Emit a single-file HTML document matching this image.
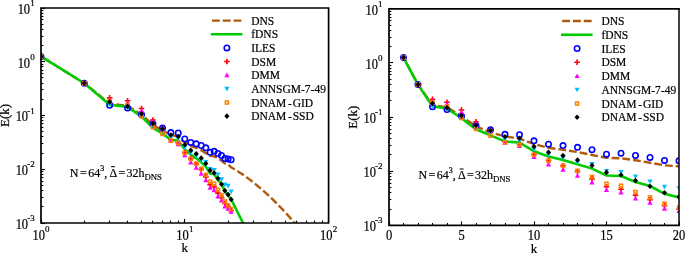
<!DOCTYPE html><html><head><meta charset="utf-8"><style>html,body{margin:0;padding:0;background:#fff;overflow:hidden;}svg{display:block;will-change:transform;} text{stroke:#000;stroke-width:0.2px;}</style></head><body>
<svg width="685" height="253" viewBox="0 0 685 253" font-family="'Liberation Serif', serif">
<rect width="685" height="253" fill="#fff"/>
<defs>
<clipPath id="clL"><rect x="41.0" y="8.0" width="287.6" height="215.0"/></clipPath>
<clipPath id="clR"><rect x="389.0" y="8.8" width="290.0" height="216.6"/></clipPath>
</defs>
<g clip-path="url(#clL)">
<polyline points="41.00,56.44 84.29,83.24 109.61,103.49 127.58,105.77 141.51,114.71 152.90,124.63 162.53,130.79 170.86,134.66 178.22,136.84 184.80,142.20 190.75,145.97 196.19,147.96 201.19,150.14 205.81,153.12 210.12,155.90 214.15,156.40 217.94,158.38 221.51,160.76 224.88,163.34 228.09,164.34 231.14,167.32 234.04,169.02 236.82,170.72 239.47,172.42 242.02,174.12 244.47,175.80 246.83,177.48 249.10,179.15 251.29,180.81 253.41,182.45 255.46,184.08 257.44,185.70 259.36,187.30 261.23,188.89 263.04,190.47 264.80,192.03 266.51,193.57 268.17,195.11 269.80,196.63 271.38,198.13 272.92,199.62 274.42,201.10 275.89,202.56 277.33,204.01 278.73,205.45 280.10,206.87 281.45,208.28 282.76,209.68 284.05,211.06 285.31,212.43 286.55,213.79 287.76,215.14 288.95,216.47 290.12,217.80 291.26,219.11 292.39,220.41 293.49,221.70 294.58,222.98 295.65,224.25 296.70,225.50 297.73,226.75 298.75,227.99 299.75,229.21 300.73,230.43" fill="none" stroke="#b05a0c" stroke-width="2.4" stroke-dasharray="7.8 3.0" stroke-dashoffset="7.1"/>
<polyline points="41.00,56.44 84.29,83.24 109.61,104.68 127.58,106.86 141.51,116.59 152.90,127.61 162.53,133.66 170.86,139.72 178.22,140.71 184.80,149.45 190.75,154.61 196.19,158.08 201.19,162.35 205.81,166.62 210.12,173.47 214.15,173.96 217.94,179.92 221.51,183.89 224.88,191.63 228.09,195.21 231.14,199.08 254.66,246.72" fill="none" stroke="#00cc00" stroke-width="2.6"/>
<circle cx="41.00" cy="56.44" r="2.7" fill="none" stroke="#0000ff" stroke-width="1.6"/>
<circle cx="84.29" cy="83.24" r="2.7" fill="none" stroke="#0000ff" stroke-width="1.6"/>
<circle cx="109.61" cy="105.28" r="2.7" fill="none" stroke="#0000ff" stroke-width="1.6"/>
<circle cx="127.58" cy="108.06" r="2.7" fill="none" stroke="#0000ff" stroke-width="1.6"/>
<circle cx="141.51" cy="114.41" r="2.7" fill="none" stroke="#0000ff" stroke-width="1.6"/>
<circle cx="152.90" cy="123.74" r="2.7" fill="none" stroke="#0000ff" stroke-width="1.6"/>
<circle cx="162.53" cy="128.11" r="2.7" fill="none" stroke="#0000ff" stroke-width="1.6"/>
<circle cx="170.86" cy="132.57" r="2.7" fill="none" stroke="#0000ff" stroke-width="1.6"/>
<circle cx="178.22" cy="132.97" r="2.7" fill="none" stroke="#0000ff" stroke-width="1.6"/>
<circle cx="184.80" cy="139.02" r="2.7" fill="none" stroke="#0000ff" stroke-width="1.6"/>
<circle cx="190.75" cy="142.40" r="2.7" fill="none" stroke="#0000ff" stroke-width="1.6"/>
<circle cx="196.19" cy="143.79" r="2.7" fill="none" stroke="#0000ff" stroke-width="1.6"/>
<circle cx="201.19" cy="145.48" r="2.7" fill="none" stroke="#0000ff" stroke-width="1.6"/>
<circle cx="205.81" cy="147.86" r="2.7" fill="none" stroke="#0000ff" stroke-width="1.6"/>
<circle cx="210.12" cy="152.33" r="2.7" fill="none" stroke="#0000ff" stroke-width="1.6"/>
<circle cx="214.15" cy="151.33" r="2.7" fill="none" stroke="#0000ff" stroke-width="1.6"/>
<circle cx="217.94" cy="153.52" r="2.7" fill="none" stroke="#0000ff" stroke-width="1.6"/>
<circle cx="221.51" cy="155.50" r="2.7" fill="none" stroke="#0000ff" stroke-width="1.6"/>
<circle cx="224.88" cy="158.48" r="2.7" fill="none" stroke="#0000ff" stroke-width="1.6"/>
<circle cx="228.09" cy="158.88" r="2.7" fill="none" stroke="#0000ff" stroke-width="1.6"/>
<circle cx="231.14" cy="159.77" r="2.7" fill="none" stroke="#0000ff" stroke-width="1.6"/>
<path d="M38.20 56.44H43.80M41.00 53.64V59.24" stroke="#ff0000" stroke-width="1.6" fill="none"/>
<path d="M81.49 83.24H87.09M84.29 80.44V86.04" stroke="#ff0000" stroke-width="1.6" fill="none"/>
<path d="M106.81 97.83H112.41M109.61 95.03V100.63" stroke="#ff0000" stroke-width="1.6" fill="none"/>
<path d="M124.78 100.81H130.38M127.58 98.01V103.61" stroke="#ff0000" stroke-width="1.6" fill="none"/>
<path d="M138.71 108.45H144.31M141.51 105.65V111.25" stroke="#ff0000" stroke-width="1.6" fill="none"/>
<path d="M150.10 120.07H155.70M152.90 117.27V122.87" stroke="#ff0000" stroke-width="1.6" fill="none"/>
<path d="M159.73 128.50H165.33M162.53 125.70V131.30" stroke="#ff0000" stroke-width="1.6" fill="none"/>
<path d="M168.06 139.72H173.66M170.86 136.92V142.52" stroke="#ff0000" stroke-width="1.6" fill="none"/>
<path d="M175.42 142.70H181.02M178.22 139.90V145.50" stroke="#ff0000" stroke-width="1.6" fill="none"/>
<path d="M182.00 152.62H187.60M184.80 149.82V155.42" stroke="#ff0000" stroke-width="1.6" fill="none"/>
<path d="M187.95 158.58H193.55M190.75 155.78V161.38" stroke="#ff0000" stroke-width="1.6" fill="none"/>
<path d="M193.39 164.04H198.99M196.19 161.24V166.84" stroke="#ff0000" stroke-width="1.6" fill="none"/>
<path d="M198.39 169.50H203.99M201.19 166.70V172.30" stroke="#ff0000" stroke-width="1.6" fill="none"/>
<path d="M203.01 176.84H208.61M205.81 174.04V179.64" stroke="#ff0000" stroke-width="1.6" fill="none"/>
<path d="M207.32 184.69H212.92M210.12 181.89V187.49" stroke="#ff0000" stroke-width="1.6" fill="none"/>
<path d="M211.35 187.07H216.95M214.15 184.27V189.87" stroke="#ff0000" stroke-width="1.6" fill="none"/>
<path d="M215.14 193.12H220.74M217.94 190.32V195.92" stroke="#ff0000" stroke-width="1.6" fill="none"/>
<path d="M218.71 197.59H224.31M221.51 194.79V200.39" stroke="#ff0000" stroke-width="1.6" fill="none"/>
<path d="M222.08 203.45H227.68M224.88 200.65V206.25" stroke="#ff0000" stroke-width="1.6" fill="none"/>
<path d="M225.29 206.92H230.89M228.09 204.12V209.72" stroke="#ff0000" stroke-width="1.6" fill="none"/>
<path d="M228.34 210.69H233.94M231.14 207.89V213.49" stroke="#ff0000" stroke-width="1.6" fill="none"/>
<path d="M41.00 53.84L43.60 58.52L38.40 58.52Z" fill="#ff00ff"/>
<path d="M84.29 80.64L86.89 85.32L81.69 85.32Z" fill="#ff00ff"/>
<path d="M109.61 96.52L112.21 101.20L107.01 101.20Z" fill="#ff00ff"/>
<path d="M127.58 99.90L130.18 104.58L124.98 104.58Z" fill="#ff00ff"/>
<path d="M141.51 108.14L144.11 112.82L138.91 112.82Z" fill="#ff00ff"/>
<path d="M152.90 119.25L155.50 123.93L150.30 123.93Z" fill="#ff00ff"/>
<path d="M162.53 126.70L165.13 131.38L159.93 131.38Z" fill="#ff00ff"/>
<path d="M170.86 138.21L173.46 142.89L168.26 142.89Z" fill="#ff00ff"/>
<path d="M178.22 141.59L180.82 146.27L175.62 146.27Z" fill="#ff00ff"/>
<path d="M184.80 152.51L187.40 157.19L182.20 157.19Z" fill="#ff00ff"/>
<path d="M190.75 159.75L193.35 164.43L188.15 164.43Z" fill="#ff00ff"/>
<path d="M196.19 165.01L198.79 169.69L193.59 169.69Z" fill="#ff00ff"/>
<path d="M201.19 171.07L203.79 175.75L198.59 175.75Z" fill="#ff00ff"/>
<path d="M205.81 177.62L208.41 182.30L203.21 182.30Z" fill="#ff00ff"/>
<path d="M210.12 185.06L212.72 189.74L207.52 189.74Z" fill="#ff00ff"/>
<path d="M214.15 187.54L216.75 192.22L211.55 192.22Z" fill="#ff00ff"/>
<path d="M217.94 193.70L220.54 198.38L215.34 198.38Z" fill="#ff00ff"/>
<path d="M221.51 197.87L224.11 202.55L218.91 202.55Z" fill="#ff00ff"/>
<path d="M224.88 203.82L227.48 208.50L222.28 208.50Z" fill="#ff00ff"/>
<path d="M228.09 206.11L230.69 210.79L225.49 210.79Z" fill="#ff00ff"/>
<path d="M231.14 209.08L233.74 213.76L228.54 213.76Z" fill="#ff00ff"/>
<path d="M41.00 59.04L43.60 54.36L38.40 54.36Z" fill="#00bfff"/>
<path d="M84.29 85.84L86.89 81.16L81.69 81.16Z" fill="#00bfff"/>
<path d="M109.61 106.88L112.21 102.20L107.01 102.20Z" fill="#00bfff"/>
<path d="M127.58 110.06L130.18 105.38L124.98 105.38Z" fill="#00bfff"/>
<path d="M141.51 117.50L144.11 112.82L138.91 112.82Z" fill="#00bfff"/>
<path d="M152.90 127.73L155.50 123.05L150.30 123.05Z" fill="#00bfff"/>
<path d="M162.53 133.39L165.13 128.71L159.93 128.71Z" fill="#00bfff"/>
<path d="M170.86 140.04L173.46 135.36L168.26 135.36Z" fill="#00bfff"/>
<path d="M178.22 141.33L180.82 136.65L175.62 136.65Z" fill="#00bfff"/>
<path d="M184.80 150.06L187.40 145.38L182.20 145.38Z" fill="#00bfff"/>
<path d="M190.75 155.42L193.35 150.74L188.15 150.74Z" fill="#00bfff"/>
<path d="M196.19 158.60L198.79 153.92L193.59 153.92Z" fill="#00bfff"/>
<path d="M201.19 162.87L203.79 158.19L198.59 158.19Z" fill="#00bfff"/>
<path d="M205.81 164.75L208.41 160.07L203.21 160.07Z" fill="#00bfff"/>
<path d="M210.12 171.60L212.72 166.92L207.52 166.92Z" fill="#00bfff"/>
<path d="M214.15 172.79L216.75 168.11L211.55 168.11Z" fill="#00bfff"/>
<path d="M217.94 177.06L220.54 172.38L215.34 172.38Z" fill="#00bfff"/>
<path d="M221.51 182.02L224.11 177.34L218.91 177.34Z" fill="#00bfff"/>
<path d="M224.88 187.29L227.48 182.61L222.28 182.61Z" fill="#00bfff"/>
<path d="M228.09 188.48L230.69 183.80L225.49 183.80Z" fill="#00bfff"/>
<path d="M231.14 194.13L233.74 189.45L228.54 189.45Z" fill="#00bfff"/>
<rect x="39.45" y="54.89" width="3.10" height="3.10" fill="none" stroke="#ff8000" stroke-width="1.5"/>
<rect x="82.74" y="81.69" width="3.10" height="3.10" fill="none" stroke="#ff8000" stroke-width="1.5"/>
<rect x="108.06" y="99.26" width="3.10" height="3.10" fill="none" stroke="#ff8000" stroke-width="1.5"/>
<rect x="126.03" y="103.43" width="3.10" height="3.10" fill="none" stroke="#ff8000" stroke-width="1.5"/>
<rect x="139.96" y="114.84" width="3.10" height="3.10" fill="none" stroke="#ff8000" stroke-width="1.5"/>
<rect x="151.35" y="125.66" width="3.10" height="3.10" fill="none" stroke="#ff8000" stroke-width="1.5"/>
<rect x="160.98" y="132.41" width="3.10" height="3.10" fill="none" stroke="#ff8000" stroke-width="1.5"/>
<rect x="169.31" y="139.06" width="3.10" height="3.10" fill="none" stroke="#ff8000" stroke-width="1.5"/>
<rect x="176.67" y="141.45" width="3.10" height="3.10" fill="none" stroke="#ff8000" stroke-width="1.5"/>
<rect x="183.25" y="151.27" width="3.10" height="3.10" fill="none" stroke="#ff8000" stroke-width="1.5"/>
<rect x="189.20" y="157.33" width="3.10" height="3.10" fill="none" stroke="#ff8000" stroke-width="1.5"/>
<rect x="194.64" y="162.09" width="3.10" height="3.10" fill="none" stroke="#ff8000" stroke-width="1.5"/>
<rect x="199.64" y="167.25" width="3.10" height="3.10" fill="none" stroke="#ff8000" stroke-width="1.5"/>
<rect x="204.26" y="173.31" width="3.10" height="3.10" fill="none" stroke="#ff8000" stroke-width="1.5"/>
<rect x="208.57" y="180.16" width="3.10" height="3.10" fill="none" stroke="#ff8000" stroke-width="1.5"/>
<rect x="212.60" y="182.14" width="3.10" height="3.10" fill="none" stroke="#ff8000" stroke-width="1.5"/>
<rect x="216.39" y="188.30" width="3.10" height="3.10" fill="none" stroke="#ff8000" stroke-width="1.5"/>
<rect x="219.96" y="193.66" width="3.10" height="3.10" fill="none" stroke="#ff8000" stroke-width="1.5"/>
<rect x="223.33" y="199.91" width="3.10" height="3.10" fill="none" stroke="#ff8000" stroke-width="1.5"/>
<rect x="226.54" y="203.88" width="3.10" height="3.10" fill="none" stroke="#ff8000" stroke-width="1.5"/>
<rect x="229.59" y="207.45" width="3.10" height="3.10" fill="none" stroke="#ff8000" stroke-width="1.5"/>
<path d="M41.00 53.64L43.55 56.44L41.00 59.24L38.45 56.44Z" fill="#000000"/>
<path d="M84.29 80.44L86.84 83.24L84.29 86.04L81.74 83.24Z" fill="#000000"/>
<path d="M109.61 99.10L112.16 101.90L109.61 104.70L107.06 101.90Z" fill="#000000"/>
<path d="M127.58 103.57L130.13 106.37L127.58 109.17L125.03 106.37Z" fill="#000000"/>
<path d="M141.51 111.01L144.06 113.81L141.51 116.61L138.96 113.81Z" fill="#000000"/>
<path d="M152.90 120.74L155.45 123.54L152.90 126.34L150.35 123.54Z" fill="#000000"/>
<path d="M162.53 126.10L165.08 128.90L162.53 131.70L159.98 128.90Z" fill="#000000"/>
<path d="M170.86 132.16L173.41 134.96L170.86 137.76L168.31 134.96Z" fill="#000000"/>
<path d="M178.22 133.74L180.77 136.54L178.22 139.34L175.67 136.54Z" fill="#000000"/>
<path d="M184.80 141.98L187.35 144.78L184.80 147.58L182.25 144.78Z" fill="#000000"/>
<path d="M190.75 147.54L193.30 150.34L190.75 153.14L188.20 150.34Z" fill="#000000"/>
<path d="M196.19 150.92L198.74 153.72L196.19 156.52L193.64 153.72Z" fill="#000000"/>
<path d="M201.19 155.28L203.74 158.08L201.19 160.88L198.64 158.08Z" fill="#000000"/>
<path d="M205.81 160.74L208.36 163.54L205.81 166.34L203.26 163.54Z" fill="#000000"/>
<path d="M210.12 167.59L212.67 170.39L210.12 173.19L207.57 170.39Z" fill="#000000"/>
<path d="M214.15 170.17L216.70 172.97L214.15 175.77L211.60 172.97Z" fill="#000000"/>
<path d="M217.94 175.73L220.49 178.53L217.94 181.33L215.39 178.53Z" fill="#000000"/>
<path d="M221.51 181.39L224.06 184.19L221.51 186.99L218.96 184.19Z" fill="#000000"/>
<path d="M224.88 187.84L227.43 190.64L224.88 193.44L222.33 190.64Z" fill="#000000"/>
<path d="M228.09 191.81L230.64 194.61L228.09 197.41L225.54 194.61Z" fill="#000000"/>
<path d="M231.14 196.68L233.69 199.48L231.14 202.28L228.59 199.48Z" fill="#000000"/>
</g>
<g clip-path="url(#clR)">
<polyline points="403.50,57.60 418.00,84.60 432.50,105.00 447.00,107.30 461.50,116.30 476.00,126.30 490.50,132.50 505.00,136.40 519.50,138.60 534.00,144.00 548.50,147.80 563.00,149.80 577.50,152.00 592.00,155.00 606.50,157.80 621.00,158.30 635.50,160.30 650.00,162.70 664.50,165.30 679.00,166.30 693.50,169.30 708.00,171.02 722.50,172.73 737.00,174.45 751.50,176.15 766.00,177.85 780.50,179.54 795.00,181.22 809.50,182.89 824.00,184.55 838.50,186.19 853.00,187.82 867.50,189.43 882.00,191.04 896.50,192.62 911.00,194.20 925.50,195.76 940.00,197.30 954.50,198.83 969.00,200.35 983.50,201.85 998.00,203.34 1012.50,204.81 1027.00,206.27 1041.50,207.72 1056.00,209.15 1070.50,210.57 1085.00,211.98 1099.50,213.37 1114.00,214.75 1128.50,216.12 1143.00,217.48 1157.50,218.83 1172.00,220.16 1186.50,221.48 1201.00,222.79 1215.50,224.09 1230.00,225.38 1244.50,226.66 1259.00,227.92 1273.50,229.18 1288.00,230.42 1302.50,231.66 1317.00,232.89" fill="none" stroke="#b05a0c" stroke-width="2.4" stroke-dasharray="7.8 3.0" stroke-dashoffset="3.5"/>
<polyline points="403.50,57.60 418.00,84.60 432.50,106.20 447.00,108.40 461.50,118.20 476.00,129.30 490.50,135.40 505.00,141.50 519.50,142.50 534.00,151.30 548.50,156.50 563.00,160.00 577.50,164.30 592.00,168.60 606.50,175.50 621.00,176.00 635.50,182.00 650.00,186.00 664.50,193.80 679.00,197.40 693.50,201.30" fill="none" stroke="#00cc00" stroke-width="2.6"/>
<circle cx="403.50" cy="57.60" r="2.7" fill="none" stroke="#0000ff" stroke-width="1.6"/>
<circle cx="418.00" cy="84.60" r="2.7" fill="none" stroke="#0000ff" stroke-width="1.6"/>
<circle cx="432.50" cy="106.80" r="2.7" fill="none" stroke="#0000ff" stroke-width="1.6"/>
<circle cx="447.00" cy="109.60" r="2.7" fill="none" stroke="#0000ff" stroke-width="1.6"/>
<circle cx="461.50" cy="116.00" r="2.7" fill="none" stroke="#0000ff" stroke-width="1.6"/>
<circle cx="476.00" cy="125.40" r="2.7" fill="none" stroke="#0000ff" stroke-width="1.6"/>
<circle cx="490.50" cy="129.80" r="2.7" fill="none" stroke="#0000ff" stroke-width="1.6"/>
<circle cx="505.00" cy="134.30" r="2.7" fill="none" stroke="#0000ff" stroke-width="1.6"/>
<circle cx="519.50" cy="134.70" r="2.7" fill="none" stroke="#0000ff" stroke-width="1.6"/>
<circle cx="534.00" cy="140.80" r="2.7" fill="none" stroke="#0000ff" stroke-width="1.6"/>
<circle cx="548.50" cy="144.20" r="2.7" fill="none" stroke="#0000ff" stroke-width="1.6"/>
<circle cx="563.00" cy="145.60" r="2.7" fill="none" stroke="#0000ff" stroke-width="1.6"/>
<circle cx="577.50" cy="147.30" r="2.7" fill="none" stroke="#0000ff" stroke-width="1.6"/>
<circle cx="592.00" cy="149.70" r="2.7" fill="none" stroke="#0000ff" stroke-width="1.6"/>
<circle cx="606.50" cy="154.20" r="2.7" fill="none" stroke="#0000ff" stroke-width="1.6"/>
<circle cx="621.00" cy="153.20" r="2.7" fill="none" stroke="#0000ff" stroke-width="1.6"/>
<circle cx="635.50" cy="155.40" r="2.7" fill="none" stroke="#0000ff" stroke-width="1.6"/>
<circle cx="650.00" cy="157.40" r="2.7" fill="none" stroke="#0000ff" stroke-width="1.6"/>
<circle cx="664.50" cy="160.40" r="2.7" fill="none" stroke="#0000ff" stroke-width="1.6"/>
<circle cx="679.00" cy="160.80" r="2.7" fill="none" stroke="#0000ff" stroke-width="1.6"/>
<circle cx="693.50" cy="161.70" r="2.7" fill="none" stroke="#0000ff" stroke-width="1.6"/>
<path d="M400.70 57.60H406.30M403.50 54.80V60.40" stroke="#ff0000" stroke-width="1.6" fill="none"/>
<path d="M415.20 84.60H420.80M418.00 81.80V87.40" stroke="#ff0000" stroke-width="1.6" fill="none"/>
<path d="M429.70 99.30H435.30M432.50 96.50V102.10" stroke="#ff0000" stroke-width="1.6" fill="none"/>
<path d="M444.20 102.30H449.80M447.00 99.50V105.10" stroke="#ff0000" stroke-width="1.6" fill="none"/>
<path d="M458.70 110.00H464.30M461.50 107.20V112.80" stroke="#ff0000" stroke-width="1.6" fill="none"/>
<path d="M473.20 121.70H478.80M476.00 118.90V124.50" stroke="#ff0000" stroke-width="1.6" fill="none"/>
<path d="M487.70 130.20H493.30M490.50 127.40V133.00" stroke="#ff0000" stroke-width="1.6" fill="none"/>
<path d="M502.20 141.50H507.80M505.00 138.70V144.30" stroke="#ff0000" stroke-width="1.6" fill="none"/>
<path d="M516.70 144.50H522.30M519.50 141.70V147.30" stroke="#ff0000" stroke-width="1.6" fill="none"/>
<path d="M531.20 154.50H536.80M534.00 151.70V157.30" stroke="#ff0000" stroke-width="1.6" fill="none"/>
<path d="M545.70 160.50H551.30M548.50 157.70V163.30" stroke="#ff0000" stroke-width="1.6" fill="none"/>
<path d="M560.20 166.00H565.80M563.00 163.20V168.80" stroke="#ff0000" stroke-width="1.6" fill="none"/>
<path d="M574.70 171.50H580.30M577.50 168.70V174.30" stroke="#ff0000" stroke-width="1.6" fill="none"/>
<path d="M589.20 178.90H594.80M592.00 176.10V181.70" stroke="#ff0000" stroke-width="1.6" fill="none"/>
<path d="M603.70 186.80H609.30M606.50 184.00V189.60" stroke="#ff0000" stroke-width="1.6" fill="none"/>
<path d="M618.20 189.20H623.80M621.00 186.40V192.00" stroke="#ff0000" stroke-width="1.6" fill="none"/>
<path d="M632.70 195.30H638.30M635.50 192.50V198.10" stroke="#ff0000" stroke-width="1.6" fill="none"/>
<path d="M647.20 199.80H652.80M650.00 197.00V202.60" stroke="#ff0000" stroke-width="1.6" fill="none"/>
<path d="M661.70 205.70H667.30M664.50 202.90V208.50" stroke="#ff0000" stroke-width="1.6" fill="none"/>
<path d="M676.20 209.20H681.80M679.00 206.40V212.00" stroke="#ff0000" stroke-width="1.6" fill="none"/>
<path d="M690.70 213.00H696.30M693.50 210.20V215.80" stroke="#ff0000" stroke-width="1.6" fill="none"/>
<path d="M403.50 55.00L406.10 59.68L400.90 59.68Z" fill="#ff00ff"/>
<path d="M418.00 82.00L420.60 86.68L415.40 86.68Z" fill="#ff00ff"/>
<path d="M432.50 98.00L435.10 102.68L429.90 102.68Z" fill="#ff00ff"/>
<path d="M447.00 101.40L449.60 106.08L444.40 106.08Z" fill="#ff00ff"/>
<path d="M461.50 109.70L464.10 114.38L458.90 114.38Z" fill="#ff00ff"/>
<path d="M476.00 120.90L478.60 125.58L473.40 125.58Z" fill="#ff00ff"/>
<path d="M490.50 128.40L493.10 133.08L487.90 133.08Z" fill="#ff00ff"/>
<path d="M505.00 140.00L507.60 144.68L502.40 144.68Z" fill="#ff00ff"/>
<path d="M519.50 143.40L522.10 148.08L516.90 148.08Z" fill="#ff00ff"/>
<path d="M534.00 154.40L536.60 159.08L531.40 159.08Z" fill="#ff00ff"/>
<path d="M548.50 161.70L551.10 166.38L545.90 166.38Z" fill="#ff00ff"/>
<path d="M563.00 167.00L565.60 171.68L560.40 171.68Z" fill="#ff00ff"/>
<path d="M577.50 173.10L580.10 177.78L574.90 177.78Z" fill="#ff00ff"/>
<path d="M592.00 179.70L594.60 184.38L589.40 184.38Z" fill="#ff00ff"/>
<path d="M606.50 187.20L609.10 191.88L603.90 191.88Z" fill="#ff00ff"/>
<path d="M621.00 189.70L623.60 194.38L618.40 194.38Z" fill="#ff00ff"/>
<path d="M635.50 195.90L638.10 200.58L632.90 200.58Z" fill="#ff00ff"/>
<path d="M650.00 200.10L652.60 204.78L647.40 204.78Z" fill="#ff00ff"/>
<path d="M664.50 206.10L667.10 210.78L661.90 210.78Z" fill="#ff00ff"/>
<path d="M679.00 208.40L681.60 213.08L676.40 213.08Z" fill="#ff00ff"/>
<path d="M693.50 211.40L696.10 216.08L690.90 216.08Z" fill="#ff00ff"/>
<path d="M403.50 60.20L406.10 55.52L400.90 55.52Z" fill="#00bfff"/>
<path d="M418.00 87.20L420.60 82.52L415.40 82.52Z" fill="#00bfff"/>
<path d="M432.50 108.40L435.10 103.72L429.90 103.72Z" fill="#00bfff"/>
<path d="M447.00 111.60L449.60 106.92L444.40 106.92Z" fill="#00bfff"/>
<path d="M461.50 119.10L464.10 114.42L458.90 114.42Z" fill="#00bfff"/>
<path d="M476.00 129.40L478.60 124.72L473.40 124.72Z" fill="#00bfff"/>
<path d="M490.50 135.10L493.10 130.42L487.90 130.42Z" fill="#00bfff"/>
<path d="M505.00 141.80L507.60 137.12L502.40 137.12Z" fill="#00bfff"/>
<path d="M519.50 143.10L522.10 138.42L516.90 138.42Z" fill="#00bfff"/>
<path d="M534.00 151.90L536.60 147.22L531.40 147.22Z" fill="#00bfff"/>
<path d="M548.50 157.30L551.10 152.62L545.90 152.62Z" fill="#00bfff"/>
<path d="M563.00 160.50L565.60 155.82L560.40 155.82Z" fill="#00bfff"/>
<path d="M577.50 164.80L580.10 160.12L574.90 160.12Z" fill="#00bfff"/>
<path d="M592.00 166.70L594.60 162.02L589.40 162.02Z" fill="#00bfff"/>
<path d="M606.50 173.60L609.10 168.92L603.90 168.92Z" fill="#00bfff"/>
<path d="M621.00 174.80L623.60 170.12L618.40 170.12Z" fill="#00bfff"/>
<path d="M635.50 179.10L638.10 174.42L632.90 174.42Z" fill="#00bfff"/>
<path d="M650.00 184.10L652.60 179.42L647.40 179.42Z" fill="#00bfff"/>
<path d="M664.50 189.40L667.10 184.72L661.90 184.72Z" fill="#00bfff"/>
<path d="M679.00 190.60L681.60 185.92L676.40 185.92Z" fill="#00bfff"/>
<path d="M693.50 196.30L696.10 191.62L690.90 191.62Z" fill="#00bfff"/>
<rect x="401.95" y="56.05" width="3.10" height="3.10" fill="none" stroke="#ff8000" stroke-width="1.5"/>
<rect x="416.45" y="83.05" width="3.10" height="3.10" fill="none" stroke="#ff8000" stroke-width="1.5"/>
<rect x="430.95" y="100.75" width="3.10" height="3.10" fill="none" stroke="#ff8000" stroke-width="1.5"/>
<rect x="445.45" y="104.95" width="3.10" height="3.10" fill="none" stroke="#ff8000" stroke-width="1.5"/>
<rect x="459.95" y="116.45" width="3.10" height="3.10" fill="none" stroke="#ff8000" stroke-width="1.5"/>
<rect x="474.45" y="127.35" width="3.10" height="3.10" fill="none" stroke="#ff8000" stroke-width="1.5"/>
<rect x="488.95" y="134.15" width="3.10" height="3.10" fill="none" stroke="#ff8000" stroke-width="1.5"/>
<rect x="503.45" y="140.85" width="3.10" height="3.10" fill="none" stroke="#ff8000" stroke-width="1.5"/>
<rect x="517.95" y="143.25" width="3.10" height="3.10" fill="none" stroke="#ff8000" stroke-width="1.5"/>
<rect x="532.45" y="153.15" width="3.10" height="3.10" fill="none" stroke="#ff8000" stroke-width="1.5"/>
<rect x="546.95" y="159.25" width="3.10" height="3.10" fill="none" stroke="#ff8000" stroke-width="1.5"/>
<rect x="561.45" y="164.05" width="3.10" height="3.10" fill="none" stroke="#ff8000" stroke-width="1.5"/>
<rect x="575.95" y="169.25" width="3.10" height="3.10" fill="none" stroke="#ff8000" stroke-width="1.5"/>
<rect x="590.45" y="175.35" width="3.10" height="3.10" fill="none" stroke="#ff8000" stroke-width="1.5"/>
<rect x="604.95" y="182.25" width="3.10" height="3.10" fill="none" stroke="#ff8000" stroke-width="1.5"/>
<rect x="619.45" y="184.25" width="3.10" height="3.10" fill="none" stroke="#ff8000" stroke-width="1.5"/>
<rect x="633.95" y="190.45" width="3.10" height="3.10" fill="none" stroke="#ff8000" stroke-width="1.5"/>
<rect x="648.45" y="195.85" width="3.10" height="3.10" fill="none" stroke="#ff8000" stroke-width="1.5"/>
<rect x="662.95" y="202.15" width="3.10" height="3.10" fill="none" stroke="#ff8000" stroke-width="1.5"/>
<rect x="677.45" y="206.15" width="3.10" height="3.10" fill="none" stroke="#ff8000" stroke-width="1.5"/>
<rect x="691.95" y="209.75" width="3.10" height="3.10" fill="none" stroke="#ff8000" stroke-width="1.5"/>
<path d="M403.50 54.80L406.05 57.60L403.50 60.40L400.95 57.60Z" fill="#000000"/>
<path d="M418.00 81.80L420.55 84.60L418.00 87.40L415.45 84.60Z" fill="#000000"/>
<path d="M432.50 100.60L435.05 103.40L432.50 106.20L429.95 103.40Z" fill="#000000"/>
<path d="M447.00 105.10L449.55 107.90L447.00 110.70L444.45 107.90Z" fill="#000000"/>
<path d="M461.50 112.60L464.05 115.40L461.50 118.20L458.95 115.40Z" fill="#000000"/>
<path d="M476.00 122.40L478.55 125.20L476.00 128.00L473.45 125.20Z" fill="#000000"/>
<path d="M490.50 127.80L493.05 130.60L490.50 133.40L487.95 130.60Z" fill="#000000"/>
<path d="M505.00 133.90L507.55 136.70L505.00 139.50L502.45 136.70Z" fill="#000000"/>
<path d="M519.50 135.50L522.05 138.30L519.50 141.10L516.95 138.30Z" fill="#000000"/>
<path d="M534.00 143.80L536.55 146.60L534.00 149.40L531.45 146.60Z" fill="#000000"/>
<path d="M548.50 149.40L551.05 152.20L548.50 155.00L545.95 152.20Z" fill="#000000"/>
<path d="M563.00 152.80L565.55 155.60L563.00 158.40L560.45 155.60Z" fill="#000000"/>
<path d="M577.50 157.20L580.05 160.00L577.50 162.80L574.95 160.00Z" fill="#000000"/>
<path d="M592.00 162.70L594.55 165.50L592.00 168.30L589.45 165.50Z" fill="#000000"/>
<path d="M606.50 169.60L609.05 172.40L606.50 175.20L603.95 172.40Z" fill="#000000"/>
<path d="M621.00 172.20L623.55 175.00L621.00 177.80L618.45 175.00Z" fill="#000000"/>
<path d="M635.50 177.80L638.05 180.60L635.50 183.40L632.95 180.60Z" fill="#000000"/>
<path d="M650.00 183.50L652.55 186.30L650.00 189.10L647.45 186.30Z" fill="#000000"/>
<path d="M664.50 190.00L667.05 192.80L664.50 195.60L661.95 192.80Z" fill="#000000"/>
<path d="M679.00 194.00L681.55 196.80L679.00 199.60L676.45 196.80Z" fill="#000000"/>
<path d="M693.50 198.90L696.05 201.70L693.50 204.50L690.95 201.70Z" fill="#000000"/>
</g>
<g stroke="#000" stroke-width="1.1" fill="none"><line x1="41.0" y1="223.50" x2="45.0" y2="223.50"/><line x1="41.0" y1="206.50" x2="43.4" y2="206.50"/><line x1="41.0" y1="197.50" x2="43.4" y2="197.50"/><line x1="41.0" y1="190.50" x2="43.4" y2="190.50"/><line x1="41.0" y1="185.50" x2="43.4" y2="185.50"/><line x1="41.0" y1="181.50" x2="43.4" y2="181.50"/><line x1="41.0" y1="177.50" x2="43.4" y2="177.50"/><line x1="41.0" y1="174.50" x2="43.4" y2="174.50"/><line x1="41.0" y1="171.50" x2="43.4" y2="171.50"/><line x1="41.0" y1="169.50" x2="45.0" y2="169.50"/><line x1="41.0" y1="153.50" x2="43.4" y2="153.50"/><line x1="41.0" y1="143.50" x2="43.4" y2="143.50"/><line x1="41.0" y1="136.50" x2="43.4" y2="136.50"/><line x1="41.0" y1="131.50" x2="43.4" y2="131.50"/><line x1="41.0" y1="127.50" x2="43.4" y2="127.50"/><line x1="41.0" y1="123.50" x2="43.4" y2="123.50"/><line x1="41.0" y1="120.50" x2="43.4" y2="120.50"/><line x1="41.0" y1="117.50" x2="43.4" y2="117.50"/><line x1="41.0" y1="115.50" x2="45.0" y2="115.50"/><line x1="41.0" y1="99.50" x2="43.4" y2="99.50"/><line x1="41.0" y1="89.50" x2="43.4" y2="89.50"/><line x1="41.0" y1="83.50" x2="43.4" y2="83.50"/><line x1="41.0" y1="77.50" x2="43.4" y2="77.50"/><line x1="41.0" y1="73.50" x2="43.4" y2="73.50"/><line x1="41.0" y1="70.50" x2="43.4" y2="70.50"/><line x1="41.0" y1="66.50" x2="43.4" y2="66.50"/><line x1="41.0" y1="64.50" x2="43.4" y2="64.50"/><line x1="41.0" y1="61.50" x2="45.0" y2="61.50"/><line x1="41.0" y1="45.50" x2="43.4" y2="45.50"/><line x1="41.0" y1="36.50" x2="43.4" y2="36.50"/><line x1="41.0" y1="29.50" x2="43.4" y2="29.50"/><line x1="41.0" y1="24.50" x2="43.4" y2="24.50"/><line x1="41.0" y1="19.50" x2="43.4" y2="19.50"/><line x1="41.0" y1="16.50" x2="43.4" y2="16.50"/><line x1="41.0" y1="13.50" x2="43.4" y2="13.50"/><line x1="41.0" y1="10.50" x2="43.4" y2="10.50"/><line x1="41.0" y1="8.50" x2="45.0" y2="8.50"/><line x1="41.50" y1="223.0" x2="41.50" y2="219.0"/><line x1="84.50" y1="223.0" x2="84.50" y2="220.6"/><line x1="109.50" y1="223.0" x2="109.50" y2="220.6"/><line x1="127.50" y1="223.0" x2="127.50" y2="220.6"/><line x1="141.50" y1="223.0" x2="141.50" y2="220.6"/><line x1="152.50" y1="223.0" x2="152.50" y2="220.6"/><line x1="162.50" y1="223.0" x2="162.50" y2="220.6"/><line x1="170.50" y1="223.0" x2="170.50" y2="220.6"/><line x1="178.50" y1="223.0" x2="178.50" y2="220.6"/><line x1="184.50" y1="223.0" x2="184.50" y2="219.0"/><line x1="228.50" y1="223.0" x2="228.50" y2="220.6"/><line x1="253.50" y1="223.0" x2="253.50" y2="220.6"/><line x1="271.50" y1="223.0" x2="271.50" y2="220.6"/><line x1="285.50" y1="223.0" x2="285.50" y2="220.6"/><line x1="296.50" y1="223.0" x2="296.50" y2="220.6"/><line x1="306.50" y1="223.0" x2="306.50" y2="220.6"/><line x1="314.50" y1="223.0" x2="314.50" y2="220.6"/><line x1="322.50" y1="223.0" x2="322.50" y2="220.6"/><line x1="328.50" y1="223.0" x2="328.50" y2="219.0"/><path d="M41.0 8.0H328.6V223.0H41.0Z" fill="none" stroke-width="1.7"/></g>
<g stroke="#000" stroke-width="1.1" fill="none"><line x1="389.0" y1="225.50" x2="393.0" y2="225.50"/><line x1="389.0" y1="209.50" x2="391.4" y2="209.50"/><line x1="389.0" y1="199.50" x2="391.4" y2="199.50"/><line x1="389.0" y1="192.50" x2="391.4" y2="192.50"/><line x1="389.0" y1="187.50" x2="391.4" y2="187.50"/><line x1="389.0" y1="183.50" x2="391.4" y2="183.50"/><line x1="389.0" y1="179.50" x2="391.4" y2="179.50"/><line x1="389.0" y1="176.50" x2="391.4" y2="176.50"/><line x1="389.0" y1="173.50" x2="391.4" y2="173.50"/><line x1="389.0" y1="171.50" x2="393.0" y2="171.50"/><line x1="389.0" y1="154.50" x2="391.4" y2="154.50"/><line x1="389.0" y1="145.50" x2="391.4" y2="145.50"/><line x1="389.0" y1="138.50" x2="391.4" y2="138.50"/><line x1="389.0" y1="133.50" x2="391.4" y2="133.50"/><line x1="389.0" y1="129.50" x2="391.4" y2="129.50"/><line x1="389.0" y1="125.50" x2="391.4" y2="125.50"/><line x1="389.0" y1="122.50" x2="391.4" y2="122.50"/><line x1="389.0" y1="119.50" x2="391.4" y2="119.50"/><line x1="389.0" y1="117.50" x2="393.0" y2="117.50"/><line x1="389.0" y1="100.50" x2="391.4" y2="100.50"/><line x1="389.0" y1="91.50" x2="391.4" y2="91.50"/><line x1="389.0" y1="84.50" x2="391.4" y2="84.50"/><line x1="389.0" y1="79.50" x2="391.4" y2="79.50"/><line x1="389.0" y1="74.50" x2="391.4" y2="74.50"/><line x1="389.0" y1="71.50" x2="391.4" y2="71.50"/><line x1="389.0" y1="68.50" x2="391.4" y2="68.50"/><line x1="389.0" y1="65.50" x2="391.4" y2="65.50"/><line x1="389.0" y1="62.50" x2="393.0" y2="62.50"/><line x1="389.0" y1="46.50" x2="391.4" y2="46.50"/><line x1="389.0" y1="37.50" x2="391.4" y2="37.50"/><line x1="389.0" y1="30.50" x2="391.4" y2="30.50"/><line x1="389.0" y1="25.50" x2="391.4" y2="25.50"/><line x1="389.0" y1="20.50" x2="391.4" y2="20.50"/><line x1="389.0" y1="17.50" x2="391.4" y2="17.50"/><line x1="389.0" y1="14.50" x2="391.4" y2="14.50"/><line x1="389.0" y1="11.50" x2="391.4" y2="11.50"/><line x1="389.0" y1="8.50" x2="393.0" y2="8.50"/><line x1="389.50" y1="225.4" x2="389.50" y2="221.4"/><line x1="403.50" y1="225.4" x2="403.50" y2="223.0"/><line x1="418.50" y1="225.4" x2="418.50" y2="223.0"/><line x1="432.50" y1="225.4" x2="432.50" y2="223.0"/><line x1="447.50" y1="225.4" x2="447.50" y2="223.0"/><line x1="461.50" y1="225.4" x2="461.50" y2="221.4"/><line x1="476.50" y1="225.4" x2="476.50" y2="223.0"/><line x1="490.50" y1="225.4" x2="490.50" y2="223.0"/><line x1="505.50" y1="225.4" x2="505.50" y2="223.0"/><line x1="519.50" y1="225.4" x2="519.50" y2="223.0"/><line x1="534.50" y1="225.4" x2="534.50" y2="221.4"/><line x1="548.50" y1="225.4" x2="548.50" y2="223.0"/><line x1="563.50" y1="225.4" x2="563.50" y2="223.0"/><line x1="577.50" y1="225.4" x2="577.50" y2="223.0"/><line x1="592.50" y1="225.4" x2="592.50" y2="223.0"/><line x1="606.50" y1="225.4" x2="606.50" y2="221.4"/><line x1="621.50" y1="225.4" x2="621.50" y2="223.0"/><line x1="635.50" y1="225.4" x2="635.50" y2="223.0"/><line x1="650.50" y1="225.4" x2="650.50" y2="223.0"/><line x1="664.50" y1="225.4" x2="664.50" y2="223.0"/><line x1="679.50" y1="225.4" x2="679.50" y2="221.4"/><path d="M679.0 225.4H389.0V8.8H679.0" fill="none" stroke-width="1.7" stroke-linecap="square"/><line x1="679.0" y1="8.8" x2="679.0" y2="225.4" stroke-width="1.5"/></g>
<g fill="#000">
<text transform="translate(28.10 228.90) scale(0.96 1.12)" x="0" y="0" font-size="13" text-anchor="end">10</text><text x="34.70" y="221.00" font-size="9" text-anchor="end">-3</text>
<text transform="translate(28.10 175.15) scale(0.96 1.12)" x="0" y="0" font-size="13" text-anchor="end">10</text><text x="34.70" y="167.25" font-size="9" text-anchor="end">-2</text>
<text transform="translate(28.10 121.40) scale(0.96 1.12)" x="0" y="0" font-size="13" text-anchor="end">10</text><text x="34.70" y="113.50" font-size="9" text-anchor="end">-1</text>
<text transform="translate(30.10 67.65) scale(0.96 1.12)" x="0" y="0" font-size="13" text-anchor="end">10</text><text x="34.70" y="59.75" font-size="9" text-anchor="end">0</text>
<text transform="translate(30.10 13.90) scale(0.96 1.12)" x="0" y="0" font-size="13" text-anchor="end">10</text><text x="34.70" y="6.00" font-size="9" text-anchor="end">1</text>
<text transform="translate(44.99 239.80) scale(0.96 1.12)" x="0" y="0" font-size="13" text-anchor="end">10</text><text x="45.09" y="231.90" font-size="9">0</text>
<text transform="translate(188.79 239.80) scale(0.96 1.12)" x="0" y="0" font-size="13" text-anchor="end">10</text><text x="188.89" y="231.90" font-size="9">1</text>
<text transform="translate(332.59 239.80) scale(0.96 1.12)" x="0" y="0" font-size="13" text-anchor="end">10</text><text x="332.69" y="231.90" font-size="9">2</text>
<text x="184.70" y="252.30" font-size="13" text-anchor="middle" >k</text>
<text transform="translate(8.5 115.5) rotate(-90)" font-size="13" text-anchor="middle">E(k)</text>
<text transform="translate(376.00 231.30) scale(0.96 1.12)" x="0" y="0" font-size="13" text-anchor="end">10</text><text x="382.60" y="223.40" font-size="9" text-anchor="end">-3</text>
<text transform="translate(376.00 177.15) scale(0.96 1.12)" x="0" y="0" font-size="13" text-anchor="end">10</text><text x="382.60" y="169.25" font-size="9" text-anchor="end">-2</text>
<text transform="translate(376.00 123.00) scale(0.96 1.12)" x="0" y="0" font-size="13" text-anchor="end">10</text><text x="382.60" y="115.10" font-size="9" text-anchor="end">-1</text>
<text transform="translate(378.00 68.85) scale(0.96 1.12)" x="0" y="0" font-size="13" text-anchor="end">10</text><text x="382.60" y="60.95" font-size="9" text-anchor="end">0</text>
<text transform="translate(378.00 14.70) scale(0.96 1.12)" x="0" y="0" font-size="13" text-anchor="end">10</text><text x="382.60" y="6.80" font-size="9" text-anchor="end">1</text>
<text transform="translate(389.00 239.60) scale(0.96 1.12)" x="0" y="0" font-size="13" text-anchor="middle">0</text>
<text transform="translate(461.50 239.60) scale(0.96 1.12)" x="0" y="0" font-size="13" text-anchor="middle">5</text>
<text transform="translate(534.00 239.60) scale(0.96 1.12)" x="0" y="0" font-size="13" text-anchor="middle">10</text>
<text transform="translate(606.50 239.60) scale(0.96 1.12)" x="0" y="0" font-size="13" text-anchor="middle">15</text>
<text transform="translate(679.00 239.60) scale(0.96 1.12)" x="0" y="0" font-size="13" text-anchor="middle">20</text>
<text x="533.90" y="252.60" font-size="13" text-anchor="middle" >k</text>
<text transform="translate(357.0 117.1) rotate(-90)" font-size="13" text-anchor="middle">E(k)</text>
<line x1="212.00" y1="20.60" x2="242.30" y2="20.60" stroke="#b05a0c" stroke-width="2.4" stroke-dasharray="7.8 3.0"/><text x="251.20" y="24.70" font-size="11.5" text-anchor="start" >DNS</text><line x1="210.80" y1="34.25" x2="242.40" y2="34.25" stroke="#00cc00" stroke-width="2.6"/><text x="251.20" y="38.35" font-size="11.5" text-anchor="start" >fDNS</text><circle cx="226.90" cy="47.90" r="2.7" fill="none" stroke="#0000ff" stroke-width="1.6"/><text x="251.20" y="52.00" font-size="11.5" text-anchor="start" >ILES</text><path d="M224.10 61.55H229.70M226.90 58.75V64.35" stroke="#ff0000" stroke-width="1.6" fill="none"/><text x="251.20" y="65.65" font-size="11.5" text-anchor="start" >DSM</text><path d="M226.90 72.60L229.50 77.28L224.30 77.28Z" fill="#ff00ff"/><text x="251.20" y="79.30" font-size="11.5" text-anchor="start" >DMM</text><path d="M226.90 91.45L229.50 86.77L224.30 86.77Z" fill="#00bfff"/><text x="251.20" y="92.95" font-size="11.5" text-anchor="start" >ANNSGM-7-49</text><rect x="225.35" y="100.95" width="3.10" height="3.10" fill="none" stroke="#ff8000" stroke-width="1.5"/><text x="251.20" y="106.60" font-size="11.5" text-anchor="start" >DNAM<tspan dx="1.6">-</tspan><tspan dx="0.9">GID</tspan></text><path d="M226.90 113.35L229.45 116.15L226.90 118.95L224.35 116.15Z" fill="#000000"/><text x="251.20" y="120.25" font-size="11.5" text-anchor="start" >DNAM<tspan dx="1.6">-</tspan><tspan dx="0.9">SSD</tspan></text>
<line x1="562.20" y1="21.00" x2="592.50" y2="21.00" stroke="#b05a0c" stroke-width="2.4" stroke-dasharray="7.8 3.0"/><text x="601.40" y="25.10" font-size="11.5" text-anchor="start" >DNS</text><line x1="561.00" y1="34.75" x2="592.60" y2="34.75" stroke="#00cc00" stroke-width="2.6"/><text x="601.40" y="38.85" font-size="11.5" text-anchor="start" >fDNS</text><circle cx="577.10" cy="48.50" r="2.7" fill="none" stroke="#0000ff" stroke-width="1.6"/><text x="601.40" y="52.60" font-size="11.5" text-anchor="start" >ILES</text><path d="M574.30 62.25H579.90M577.10 59.45V65.05" stroke="#ff0000" stroke-width="1.6" fill="none"/><text x="601.40" y="66.35" font-size="11.5" text-anchor="start" >DSM</text><path d="M577.10 73.40L579.70 78.08L574.50 78.08Z" fill="#ff00ff"/><text x="601.40" y="80.10" font-size="11.5" text-anchor="start" >DMM</text><path d="M577.10 92.35L579.70 87.67L574.50 87.67Z" fill="#00bfff"/><text x="601.40" y="93.85" font-size="11.5" text-anchor="start" >ANNSGM-7-49</text><rect x="575.55" y="101.95" width="3.10" height="3.10" fill="none" stroke="#ff8000" stroke-width="1.5"/><text x="601.40" y="107.60" font-size="11.5" text-anchor="start" >DNAM<tspan dx="1.6">-</tspan><tspan dx="0.9">GID</tspan></text><path d="M577.10 114.45L579.65 117.25L577.10 120.05L574.55 117.25Z" fill="#000000"/><text x="601.40" y="121.35" font-size="11.5" text-anchor="start" >DNAM<tspan dx="1.6">-</tspan><tspan dx="0.9">SSD</tspan></text>
<text x="69.80" y="176.70" font-size="12">N<tspan dx="1.5">=</tspan><tspan dx="1.5">64</tspan><tspan font-size="8" dy="-5.9">3</tspan><tspan dy="5.9">,</tspan><tspan dx="2.2">&#916;</tspan><tspan dx="1.3">=</tspan><tspan dx="1.2">32h</tspan><tspan font-size="8.7" dy="3.0">DNS</tspan></text><line x1="111.00" y1="166.70" x2="115.00" y2="166.70" stroke="#000" stroke-width="1.0"/>
<text x="418.40" y="179.00" font-size="12">N<tspan dx="1.5">=</tspan><tspan dx="1.5">64</tspan><tspan font-size="8" dy="-5.9">3</tspan><tspan dy="5.9">,</tspan><tspan dx="2.2">&#916;</tspan><tspan dx="1.3">=</tspan><tspan dx="1.2">32h</tspan><tspan font-size="8.7" dy="3.0">DNS</tspan></text><line x1="459.60" y1="169.00" x2="463.60" y2="169.00" stroke="#000" stroke-width="1.0"/>
</g>
</svg></body></html>
